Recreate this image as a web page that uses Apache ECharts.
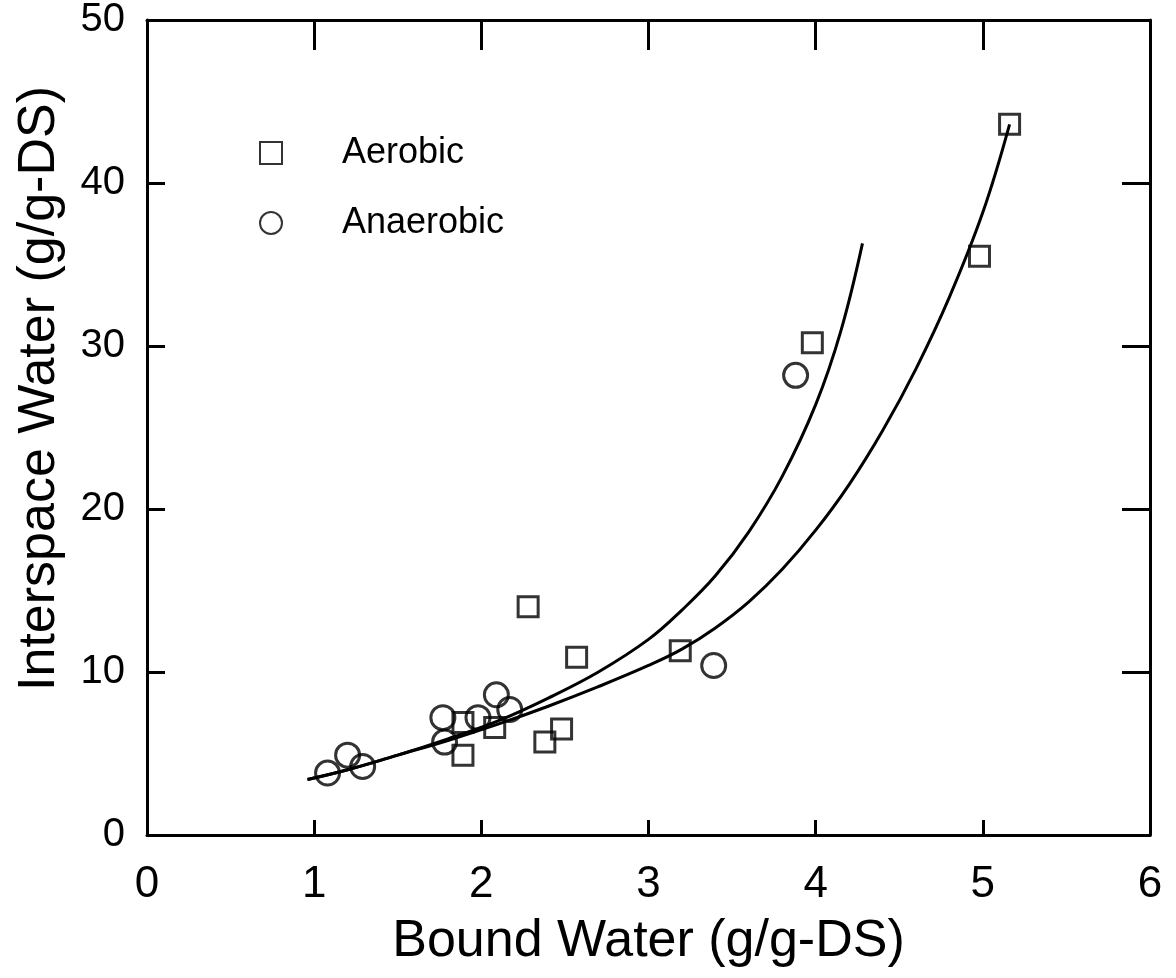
<!DOCTYPE html>
<html>
<head>
<meta charset="utf-8">
<script src="https://cdn.jsdelivr.net/npm/echarts@6/dist/echarts.min.js"></script>
<style>
html,body{margin:0;padding:0;background:#fff;}
#chart{width:1176px;height:978px;}
</style>
</head>
<body>
<div id="chart"></div>
<script>
// ---- Data ----
var xTicks = [0, 1, 2, 3, 4, 5, 6];
var yTicks = [0, 10, 20, 30, 40, 50];

var aerobicX = [5.16, 4.98, 3.98, 2.28, 2.57, 3.19, 2.48, 2.38, 1.89, 1.89, 2.08];
var aerobicY = [43.6, 35.5, 30.2, 14.0, 10.9, 11.3, 6.5, 5.7, 4.9, 6.9, 6.6];

var anaerobicX = [1.08, 1.20, 1.29, 1.77, 1.78, 1.98, 2.09, 2.17, 3.39, 3.88];
var anaerobicY = [3.8, 4.9, 4.2, 7.2, 5.7, 7.2, 8.6, 7.7, 10.4, 28.2];

// fitted curves
var curve1X = [0.96, 1.2, 1.5, 1.8, 2.1, 2.4, 2.7, 3.0, 3.2, 3.4, 3.6, 3.8, 4.0, 4.15, 4.28];
var curve1Y = [3.4, 4.0, 4.9, 5.9, 7.0, 8.4, 10.0, 12.0, 13.8, 15.9, 18.6, 22.0, 26.4, 30.9, 36.3];

var curve2X = [0.96, 1.2, 1.5, 1.8, 2.1, 2.4, 2.7, 3.0, 3.2, 3.4, 3.6, 3.8, 4.0, 4.2, 4.4, 4.6, 4.8, 5.0, 5.16];
var curve2Y = [3.4, 4.0, 4.9, 5.8, 6.8, 7.9, 9.1, 10.4, 11.4, 12.7, 14.3, 16.3, 18.7, 21.5, 24.8, 28.6, 33.0, 38.2, 43.6];

var xTitle = 'Bound Water (g/g-DS)';
var yTitle = 'Interspace Water (g/g-DS)';
var seriesNames = ['Aerobic', 'Anaerobic'];

function zip(a, b) { return a.map(function (v, i) { return [v, b[i]]; }); }

var FONT = "'Liberation Sans', Arial, Helvetica, sans-serif";
var chart = echarts.init(document.getElementById('chart'), null, {renderer: 'canvas'});

var axisLine = {show: true, onZero: false, lineStyle: {color: '#000', width: 3}};

var option = {
  backgroundColor: '#fff',
  animation: false,
  grid: {left: 147, right: 26, top: 20, bottom: 143, containLabel: false, outerBoundsMode: 'none'},
  legend: {
    orient: 'vertical',
    left: 254,
    top: 130,
    itemGap: 34,
    itemWidth: 22,
    itemHeight: 22,
    data: [
      {name: seriesNames[0], icon: 'rect'},
      {name: seriesNames[1], icon: 'circle'}
    ],
    textStyle: {fontFamily: FONT, fontSize: 36, color: '#000', padding: [0, 0, 0, 55]}
  },
  xAxis: [
    {
      type: 'value', min: xTicks[0], max: xTicks[xTicks.length - 1], interval: 1,
      position: 'bottom',
      axisLine: axisLine,
      axisTick: {show: true, inside: true, length: 15, lineStyle: {color: '#000', width: 3}},
      axisLabel: {show: true, margin: 28, fontFamily: FONT, fontSize: 44, color: '#000'},
      splitLine: {show: false},
      name: xTitle, nameLocation: 'middle', nameGap: 81,
      nameTextStyle: {fontFamily: FONT, fontSize: 52, color: '#000'}
    },
    {
      type: 'value', min: xTicks[0], max: xTicks[xTicks.length - 1], interval: 1,
      position: 'top',
      axisLine: axisLine,
      axisTick: {show: true, inside: true, length: 30, lineStyle: {color: '#000', width: 3}},
      axisLabel: {show: false},
      splitLine: {show: false}
    }
  ],
  yAxis: [
    {
      type: 'value', min: yTicks[0], max: yTicks[yTicks.length - 1], interval: 10,
      position: 'left',
      axisLine: axisLine,
      axisTick: {show: true, inside: true, length: 18, lineStyle: {color: '#000', width: 3}},
      axisLabel: {show: true, margin: 22, fontFamily: FONT, fontSize: 40, color: '#000'},
      splitLine: {show: false},
      name: yTitle, nameLocation: 'middle', nameGap: 81,
      nameTextStyle: {fontFamily: FONT, fontSize: 52, color: '#000', padding: [0, 0, 0, 78]}
    },
    {
      type: 'value', min: yTicks[0], max: yTicks[yTicks.length - 1], interval: 10,
      position: 'right',
      axisLine: axisLine,
      axisTick: {show: true, inside: true, length: 28, lineStyle: {color: '#000', width: 3}},
      axisLabel: {show: false},
      splitLine: {show: false}
    }
  ],
  series: [
    {
      name: 'curve1', type: 'line', xAxisIndex: 0, yAxisIndex: 0,
      data: zip(curve1X, curve1Y), showSymbol: false, smooth: 0.4,
      lineStyle: {color: '#000', width: 3}, z: 2
    },
    {
      name: 'curve2', type: 'line', xAxisIndex: 0, yAxisIndex: 0,
      data: zip(curve2X, curve2Y), showSymbol: false, smooth: 0.4,
      lineStyle: {color: '#000', width: 3}, z: 2
    },
    {
      name: seriesNames[0], type: 'scatter', xAxisIndex: 0, yAxisIndex: 0,
      data: zip(aerobicX, aerobicY), symbol: 'rect', symbolSize: 20,
      itemStyle: {color: 'rgba(255,255,255,0)', borderColor: '#000', borderWidth: 3}, z: 3
    },
    {
      name: seriesNames[1], type: 'scatter', xAxisIndex: 0, yAxisIndex: 0,
      data: zip(anaerobicX, anaerobicY), symbol: 'circle', symbolSize: 24,
      itemStyle: {color: 'rgba(255,255,255,0)', borderColor: '#000', borderWidth: 3}, z: 3
    }
  ]
};
chart.setOption(option);
</script>
</body>
</html>
